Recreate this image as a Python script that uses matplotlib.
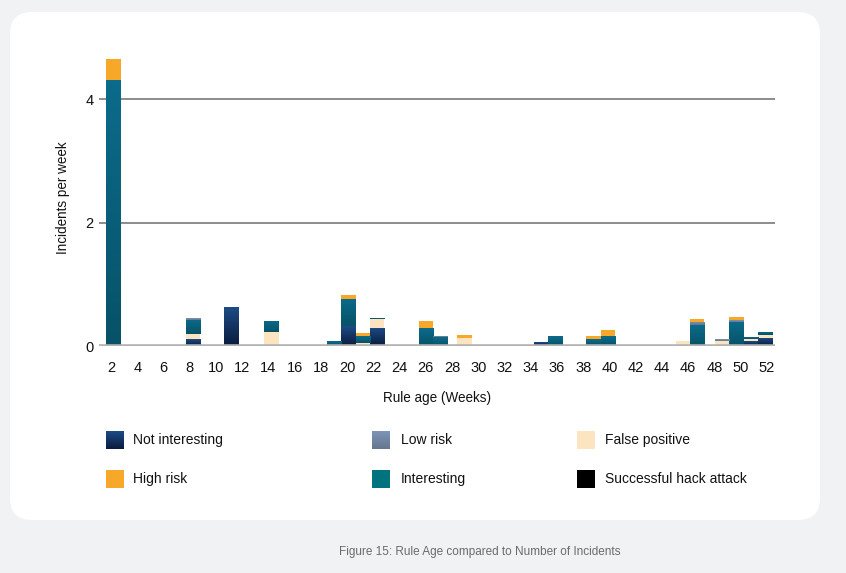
import numpy as np
import matplotlib
matplotlib.use("Agg")
import matplotlib.pyplot as plt
from matplotlib.colors import LinearSegmentedColormap
from matplotlib.patches import FancyBboxPatch

plt.rcParams["font.family"] = ["Liberation Sans", "DejaVu Sans"]

# rule age (weeks) of each bar
ages = [2.2, 8.25, 11.2, 14.25, 19.0, 20.1, 21.2, 22.3, 26.0, 27.1, 28.95,
        34.8, 35.9, 38.8, 39.9, 45.6, 46.7, 48.6, 49.7, 50.8, 51.9]

# incidents per week, stacked bottom -> top in this order
not_interesting = [0, 0.11, 0.63, 0, 0, 0.32, 0, 0.30, 0, 0, 0,
                   0.06, 0, 0, 0, 0, 0, 0, 0, 0.08, 0.13]
false_positive = [0, 0.08, 0, 0.22, 0, 0, 0.045, 0.13, 0, 0, 0.125,
                  0, 0, 0, 0, 0.08, 0, 0.08, 0, 0.03, 0.05]
interesting = [4.31, 0.23, 0, 0.18, 0.075, 0.44, 0.11, 0.03, 0.29, 0.14, 0,
               0, 0.16, 0.11, 0.16, 0, 0.34, 0, 0.39, 0.03, 0.05]
low_risk = [0, 0.03, 0, 0, 0, 0, 0, 0, 0, 0.03, 0,
            0, 0, 0, 0, 0, 0.05, 0.03, 0.03, 0, 0]
high_risk = [0.34, 0, 0, 0, 0, 0.065, 0.05, 0, 0.11, 0, 0.05,
             0, 0, 0.05, 0.095, 0, 0.05, 0, 0.05, 0, 0]
hack_attack = [0] * len(ages)

x_ticks = list(range(2, 53, 2))

# (label, values, flat colour, gradient top, gradient bottom)
series = [
    ("Not interesting", not_interesting, "#163a6a", "#1c4c86", "#0b1b3c"),
    ("False positive", false_positive, "#fde4c0", None, None),
    ("Interesting", interesting, "#00737f", "#0b6b8b", "#075267"),
    ("Low risk", low_risk, "#7388a8", "#7c95b8", "#66768e"),
    ("High risk", high_risk, "#f7a829", None, None),
    ("Successful hack attack", hack_attack, "#000000", None, None),
]

legend_order = ["Not interesting", "Low risk", "False positive",
                "High risk", "Interesting", "Successful hack attack"]

GRAD = np.linspace(0, 1, 64).reshape(-1, 1)


def gradient_fill(axis, patch, top, bottom):
    cmap = LinearSegmentedColormap.from_list("g", [bottom, top])
    bb = patch.get_bbox()
    im = axis.imshow(GRAD, cmap=cmap, origin="lower", aspect="auto",
                     extent=(bb.x0, bb.x1, bb.y0, bb.y1), zorder=3,
                     interpolation="bilinear")
    im.set_clip_path(patch)


fig = plt.figure(figsize=(8.46, 5.73), dpi=100)
fig.patch.set_facecolor("#f1f2f4")

# background card in pixel coords
bg = fig.add_axes([0, 0, 1, 1], zorder=-1)
bg.set_xlim(0, 846)
bg.set_ylim(573, 0)
bg.axis("off")
bg.add_patch(FancyBboxPatch((10, 12), 810, 508,
                            boxstyle="round,pad=0,rounding_size=22",
                            fc="white", ec="none", zorder=1))

ax = fig.add_axes([99 / 846, (573 - 346) / 573, (775 - 99) / 846, (346 - 50) / 573])
ax.set_facecolor("none")

bottom = np.zeros(len(ages))
for label, vals, flat, top_c, bot_c in series:
    vals = np.array(vals, dtype=float)
    bars = ax.bar(ages, vals, width=1.1, bottom=bottom, color=flat,
                  linewidth=0, zorder=2)
    if top_c is not None:
        for patch, v in zip(bars.patches, vals):
            if v > 0:
                gradient_fill(ax, patch, top_c, bot_c)
    bottom += vals

ax.axhline(2, color="#6e6e6e", lw=1.1, zorder=1)
ax.axhline(4, color="#6e6e6e", lw=1.1, zorder=1)
ax.axhline(0, color="#b3b3b3", lw=2.6, zorder=4)

ax.set_xlim(1.085, 52.63)
ax.set_ylim(0, 4.8)
ax.set_xticks(x_ticks)
ax.set_yticks([0, 2, 4])
ax.tick_params(axis="x", length=0, pad=11, labelsize=10.5, colors="#111111")
ax.tick_params(axis="y", length=0, pad=4, labelsize=10.5, colors="#111111")
for s in ax.spines.values():
    s.set_visible(False)

ax.set_xlabel("Rule age (Weeks)", fontsize=9.75, labelpad=11, color="#111111")
ax.set_ylabel("Incidents per week", fontsize=9.75, labelpad=11, color="#111111")

# legend, 3 columns x 2 rows
col_patch_x = [106, 372, 577]
col_text_x = [133, 401, 605]
row_y = [440, 479]
lookup = {s[0]: s for s in series}
for i, name in enumerate(legend_order):
    r, c = divmod(i, 3)
    _, _, flat, top_c, bot_c = lookup[name]
    x0, y0 = col_patch_x[c], row_y[r] - 9
    if top_c is not None and name != "Interesting":
        cmap = LinearSegmentedColormap.from_list("g", [bot_c, top_c])
        bg.imshow(GRAD, cmap=cmap, origin="lower", aspect="auto",
                  extent=(x0, x0 + 18, y0 + 18, y0), zorder=3)
    else:
        bg.add_patch(plt.Rectangle((x0, y0), 18, 18, fc=flat, ec="none",
                                   zorder=3))
    bg.text(col_text_x[c], row_y[r], name, fontsize=10, va="center",
            ha="left", color="#111111", zorder=4)
bg.set_xlim(0, 846)
bg.set_ylim(573, 0)

bg.text(480, 552, "Figure 15: Rule Age compared to Number of Incidents",
        fontsize=8.5, color="#6b6b6b", ha="center", va="center")

fig.savefig("out.png", dpi=100, facecolor=fig.get_facecolor())
plt.close(fig)
